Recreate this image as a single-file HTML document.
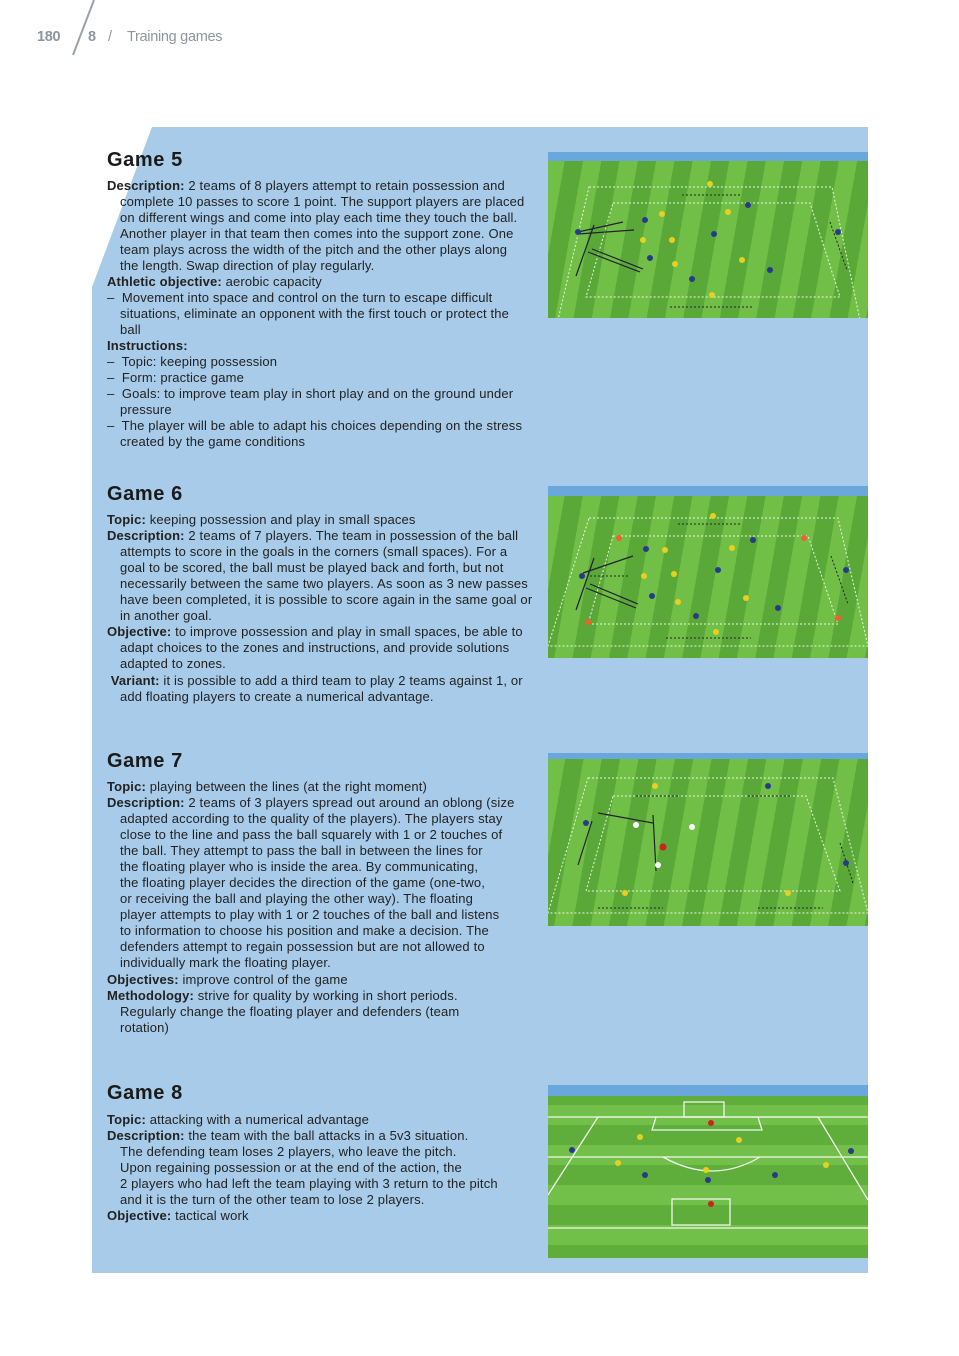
<!DOCTYPE html>
<html><head><meta charset="utf-8"><style>
*{margin:0;padding:0;box-sizing:border-box}
body{width:959px;height:1356px;background:#fff;position:relative;overflow:hidden;font-family:"Liberation Sans",sans-serif;color:#222}
.hdr{position:absolute;top:29px;font-size:14.5px;color:#8e969c;letter-spacing:-0.3px}
.panel{position:absolute;left:92px;top:127px;width:776px;height:1146px;background:#a7cbe8;clip-path:polygon(60px 0,776px 0,776px 1146px,0 1146px,0 160px)}
.l{position:absolute;left:107px;font-size:13px;letter-spacing:0.15px;line-height:16px;white-space:nowrap;color:#222}
.i{left:120px}
.h{position:absolute;left:107px;font-size:20px;letter-spacing:0.6px;font-weight:bold;color:#1a1a1a}
b{font-weight:bold}
.img{position:absolute;left:548px;width:320px;overflow:hidden;background:repeating-linear-gradient(100deg,#72bf48 0 18px,#5aa938 18px 36px)}
.img .band{position:absolute;left:0;top:0;width:100%;background:#69a7dc}
.img svg{position:absolute;left:0;top:0}
.g8{background:repeating-linear-gradient(180deg,#5fae3b 0 20px,#72bf4a 20px 40px)}
</style></head><body>
<div class="hdr" style="left:37px;font-weight:bold">180</div>
<svg style="position:absolute;left:68px;top:0" width="30" height="58"><line x1="26" y1="0" x2="5" y2="55" stroke="#9aa2a8" stroke-width="2"/></svg>
<div class="hdr" style="left:88px;font-weight:bold">8</div>
<div class="hdr" style="left:108px">/</div>
<div class="hdr" style="left:127px">Training games</div>

<div class="panel"></div>

<div class="h" style="top:149px">Game 5</div>
<div class="l" style="top:178px"><b>Description:</b> 2 teams of 8 players attempt to retain possession and</div>
<div class="l i" style="top:194px">complete 10 passes to score 1 point. The support players are placed</div>
<div class="l i" style="top:210px">on different wings and come into play each time they touch the ball.</div>
<div class="l i" style="top:226px">Another player in that team then comes into the support zone. One</div>
<div class="l i" style="top:242px">team plays across the width of the pitch and the other plays along</div>
<div class="l i" style="top:258px">the length. Swap direction of play regularly.</div>
<div class="l" style="top:274px"><b>Athletic objective:</b> aerobic capacity</div>
<div class="l" style="top:290px">–&nbsp; Movement into space and control on the turn to escape difficult</div>
<div class="l i" style="top:306px">situations, eliminate an opponent with the first touch or protect the</div>
<div class="l i" style="top:322px">ball</div>
<div class="l" style="top:338px"><b>Instructions:</b></div>
<div class="l" style="top:354px">–&nbsp; Topic: keeping possession</div>
<div class="l" style="top:370px">–&nbsp; Form: practice game</div>
<div class="l" style="top:386px">–&nbsp; Goals: to improve team play in short play and on the ground under</div>
<div class="l i" style="top:402px">pressure</div>
<div class="l" style="top:418px">–&nbsp; The player will be able to adapt his choices depending on the stress</div>
<div class="l i" style="top:434px">created by the game conditions</div>

<div class="h" style="top:483px">Game 6</div>
<div class="l" style="top:512px"><b>Topic:</b> keeping possession and play in small spaces</div>
<div class="l" style="top:528px"><b>Description:</b> 2 teams of 7 players. The team in possession of the ball</div>
<div class="l i" style="top:544px">attempts to score in the goals in the corners (small spaces). For a</div>
<div class="l i" style="top:560px">goal to be scored, the ball must be played back and forth, but not</div>
<div class="l i" style="top:576px">necessarily between the same two players. As soon as 3 new passes</div>
<div class="l i" style="top:592px">have been completed, it is possible to score again in the same goal or</div>
<div class="l i" style="top:608px">in another goal.</div>
<div class="l" style="top:624px"><b>Objective:</b> to improve possession and play in small spaces, be able to</div>
<div class="l i" style="top:640px">adapt choices to the zones and instructions, and provide solutions</div>
<div class="l i" style="top:656px">adapted to zones.</div>
<div class="l" style="top:673px">&nbsp;<b>Variant:</b> it is possible to add a third team to play 2 teams against 1, or</div>
<div class="l i" style="top:689px">add floating players to create a numerical advantage.</div>

<div class="h" style="top:750px">Game 7</div>
<div class="l" style="top:779px"><b>Topic:</b> playing between the lines (at the right moment)</div>
<div class="l" style="top:795px"><b>Description:</b> 2 teams of 3 players spread out around an oblong (size</div>
<div class="l i" style="top:811px">adapted according to the quality of the players). The players stay</div>
<div class="l i" style="top:827px">close to the line and pass the ball squarely with 1 or 2 touches of</div>
<div class="l i" style="top:843px">the ball. They attempt to pass the ball in between the lines for</div>
<div class="l i" style="top:859px">the floating player who is inside the area. By communicating,</div>
<div class="l i" style="top:875px">the floating player decides the direction of the game (one-two,</div>
<div class="l i" style="top:891px">or receiving the ball and playing the other way). The floating</div>
<div class="l i" style="top:907px">player attempts to play with 1 or 2 touches of the ball and listens</div>
<div class="l i" style="top:923px">to information to choose his position and make a decision. The</div>
<div class="l i" style="top:939px">defenders attempt to regain possession but are not allowed to</div>
<div class="l i" style="top:955px">individually mark the floating player.</div>
<div class="l" style="top:972px"><b>Objectives:</b> improve control of the game</div>
<div class="l" style="top:988px"><b>Methodology:</b> strive for quality by working in short periods.</div>
<div class="l i" style="top:1004px">Regularly change the floating player and defenders (team</div>
<div class="l i" style="top:1020px">rotation)</div>

<div class="h" style="top:1082px">Game 8</div>
<div class="l" style="top:1112px"><b>Topic:</b> attacking with a numerical advantage</div>
<div class="l" style="top:1128px"><b>Description:</b> the team with the ball attacks in a 5v3 situation.</div>
<div class="l i" style="top:1144px">The defending team loses 2 players, who leave the pitch.</div>
<div class="l i" style="top:1160px">Upon regaining possession or at the end of the action, the</div>
<div class="l i" style="top:1176px">2 players who had left the team playing with 3 return to the pitch</div>
<div class="l i" style="top:1192px">and it is the turn of the other team to lose 2 players.</div>
<div class="l" style="top:1208px"><b>Objective:</b> tactical work</div>

<!-- Game 5 image -->
<div class="img" style="top:152px;height:166px"><div class="band" style="height:9px"></div>
<svg width="320" height="166" fill="none" stroke="#e8f5e0" stroke-width="1" stroke-dasharray="2 2">
<polygon points="41,35 284,35 312,168 10,168" />
<polygon points="65,51 262,51 292,145 38,145"/>
<g stroke="#223" stroke-dasharray="none" stroke-width="1.2"><line x1="30" y1="80" x2="75" y2="70"/><line x1="30" y1="82" x2="86" y2="78"/><line x1="44" y1="97" x2="95" y2="117"/><line x1="40" y1="100" x2="92" y2="120"/><line x1="46" y1="73" x2="28" y2="124"/></g>
<g stroke="#223" stroke-dasharray="2 2"><line x1="134" y1="43" x2="192" y2="43"/><line x1="122" y1="155" x2="205" y2="155"/><line x1="282" y1="70" x2="299" y2="118"/></g>
<g stroke="none"><circle cx="30" cy="80" r="3" fill="#2a3a8a"/><circle cx="97" cy="68" r="3" fill="#2a3a8a"/><circle cx="200" cy="53" r="3" fill="#2a3a8a"/><circle cx="166" cy="82" r="3" fill="#2a3a8a"/><circle cx="102" cy="106" r="3" fill="#2a3a8a"/><circle cx="144" cy="127" r="3" fill="#2a3a8a"/><circle cx="222" cy="118" r="3" fill="#2a3a8a"/><circle cx="290" cy="80" r="3" fill="#2a3a8a"/>
<circle cx="114" cy="62" r="3" fill="#e8d020"/><circle cx="124" cy="88" r="3" fill="#e8d020"/><circle cx="95" cy="88" r="3" fill="#e8d020"/><circle cx="127" cy="112" r="3" fill="#e8d020"/><circle cx="180" cy="60" r="3" fill="#e8d020"/><circle cx="194" cy="108" r="3" fill="#e8d020"/><circle cx="162" cy="32" r="3" fill="#e8d020"/><circle cx="164" cy="143" r="3" fill="#e8d020"/></g>
</svg></div>

<!-- Game 6 image -->
<div class="img" style="top:486px;height:172px"><div class="band" style="height:10px"></div>
<svg width="320" height="172" fill="none" stroke="#e8f5e0" stroke-width="1" stroke-dasharray="2 2">
<polygon points="41,32 290,32 320,160 0,160"/>
<polygon points="65,50 260,50 290,138 40,138"/>
<g stroke="#223" stroke-dasharray="none" stroke-width="1.2"><line x1="35" y1="87" x2="85" y2="70"/><line x1="42" y1="98" x2="90" y2="118"/><line x1="38" y1="102" x2="88" y2="122"/><line x1="46" y1="72" x2="28" y2="124"/></g>
<g stroke="#223" stroke-dasharray="2 2"><line x1="130" y1="38" x2="192" y2="38"/><line x1="118" y1="152" x2="203" y2="152"/><line x1="42" y1="90" x2="80" y2="90"/><line x1="283" y1="70" x2="300" y2="118"/></g>
<g stroke="none"><circle cx="98" cy="63" r="3" fill="#2a3a8a"/><circle cx="205" cy="54" r="3" fill="#2a3a8a"/><circle cx="170" cy="84" r="3" fill="#2a3a8a"/><circle cx="104" cy="110" r="3" fill="#2a3a8a"/><circle cx="148" cy="130" r="3" fill="#2a3a8a"/><circle cx="230" cy="122" r="3" fill="#2a3a8a"/><circle cx="298" cy="84" r="3" fill="#2a3a8a"/><circle cx="34" cy="90" r="3" fill="#2a3a8a"/>
<circle cx="117" cy="64" r="3" fill="#e8d020"/><circle cx="126" cy="88" r="3" fill="#e8d020"/><circle cx="96" cy="90" r="3" fill="#e8d020"/><circle cx="130" cy="116" r="3" fill="#e8d020"/><circle cx="184" cy="62" r="3" fill="#e8d020"/><circle cx="198" cy="112" r="3" fill="#e8d020"/><circle cx="165" cy="30" r="3" fill="#e8d020"/><circle cx="168" cy="146" r="3" fill="#e8d020"/>
<circle cx="71" cy="52" r="3" fill="#f06030"/><circle cx="256" cy="52" r="3" fill="#f06030"/><circle cx="40" cy="136" r="3" fill="#f06030"/><circle cx="290" cy="132" r="3" fill="#f06030"/></g>
</svg></div>

<!-- Game 7 image -->
<div class="img" style="top:753px;height:173px"><div class="band" style="height:6px"></div>
<svg width="320" height="173" fill="none" stroke="#e8f5e0" stroke-width="1" stroke-dasharray="2 2">
<polygon points="40,25 285,25 320,160 0,160"/>
<polygon points="65,43 258,43 292,138 38,138"/>
<g stroke="#223" stroke-dasharray="none" stroke-width="1.2"><line x1="105" y1="62" x2="108" y2="118"/><line x1="105" y1="70" x2="50" y2="60"/><line x1="44" y1="68" x2="30" y2="112"/></g>
<g stroke="#223" stroke-dasharray="2 2"><line x1="88" y1="43" x2="130" y2="43"/><line x1="200" y1="43" x2="243" y2="43"/><line x1="50" y1="155" x2="115" y2="155"/><line x1="210" y1="155" x2="275" y2="155"/><line x1="292" y1="90" x2="305" y2="130"/></g>
<g stroke="none"><circle cx="38" cy="70" r="3" fill="#2a3a8a"/><circle cx="220" cy="33" r="3" fill="#2a3a8a"/><circle cx="298" cy="110" r="3" fill="#2a3a8a"/>
<circle cx="107" cy="33" r="3" fill="#e8d020"/><circle cx="77" cy="140" r="3" fill="#e8d020"/><circle cx="240" cy="140" r="3" fill="#e8d020"/>
<circle cx="88" cy="72" r="3" fill="#fff"/><circle cx="144" cy="74" r="3" fill="#fff"/><circle cx="110" cy="112" r="3" fill="#fff"/><circle cx="115" cy="94" r="3.5" fill="#d02020"/></g>
</svg></div>

<!-- Game 8 image -->
<div class="img g8" style="top:1085px;height:173px"><div class="band" style="height:11px"></div>
<svg width="320" height="173" fill="none" stroke="#eef8ea" stroke-width="1.3">
<line x1="0" y1="32" x2="320" y2="32"/><polyline points="0,110 50,32 270,32 320,115"/>
<line x1="0" y1="143" x2="320" y2="143"/><line x1="0" y1="72" x2="320" y2="72"/>
<polyline points="108,32 104,45 214,45 210,32"/><path d="M115,72 Q165,100 212,72"/>
<rect x="136" y="17" width="40" height="15"/><rect x="124" y="114" width="58" height="26"/>
<g stroke="none"><circle cx="163" cy="38" r="3" fill="#d02020"/><circle cx="163" cy="119" r="3" fill="#d02020"/>
<circle cx="92" cy="52" r="3" fill="#e8d020"/><circle cx="191" cy="55" r="3" fill="#e8d020"/><circle cx="70" cy="78" r="3" fill="#e8d020"/><circle cx="158" cy="85" r="3" fill="#e8d020"/><circle cx="278" cy="80" r="3" fill="#e8d020"/>
<circle cx="97" cy="90" r="3" fill="#2a3a8a"/><circle cx="160" cy="95" r="3" fill="#2a3a8a"/><circle cx="227" cy="90" r="3" fill="#2a3a8a"/><circle cx="24" cy="65" r="3" fill="#2a3a8a"/><circle cx="303" cy="66" r="3" fill="#2a3a8a"/></g>
</svg></div>
</body></html>
